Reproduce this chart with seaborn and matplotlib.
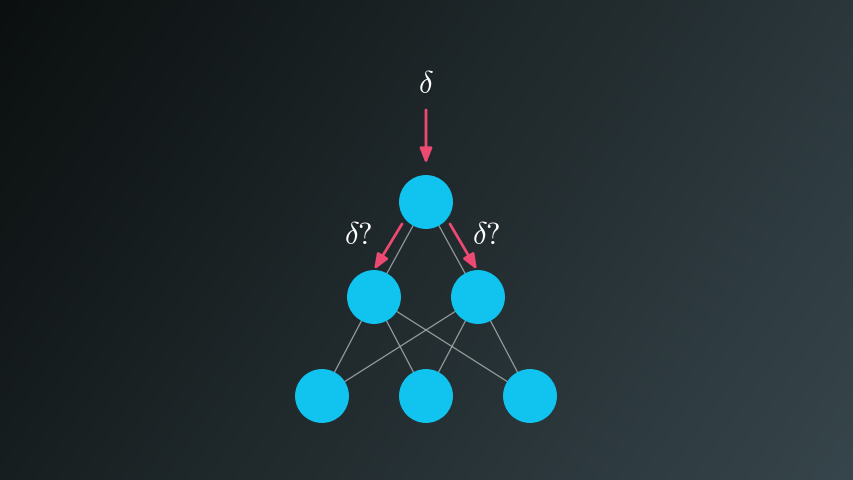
import numpy as np
import pandas as pd
import matplotlib.pyplot as plt
import seaborn as sns

# Network layout (pixel coordinates of the diagram)
layer_names = ["output", "hidden", "hidden", "input", "input", "input"]
node_x = [426, 374, 478, 322, 426, 530]
node_y = [202, 297, 297, 396, 396, 396]
node_radius = 27

# Connections between nodes (index pairs)
edges = [(0, 1), (0, 2),
         (1, 3), (1, 4), (1, 5),
         (2, 3), (2, 4), (2, 5)]

# Error signal arrows: (x_start, y_start, x_end, y_end)
arrows = [(426, 110, 426, 164),
          (402, 224, 374, 270),
          (450, 224, 477, 270)]
labels = [r"$\delta$", r"$\delta?$", r"$\delta?$"]
label_x = [426, 358, 486]
label_y = [84, 236, 236]

W, H = 854, 480
node_color = "#10c4ef"
arrow_color = "#ec4a72"
edge_color = "#a3a8aa"

sns.set_theme(style="white")
plt.rcParams["mathtext.fontset"] = "cm"

fig = plt.figure(figsize=(8.54, 4.8), dpi=100)
ax = fig.add_axes([0, 0, 1, 1])

# Background gradient: dark top-left to lighter slate bottom-right
gx, gy = np.meshgrid(np.linspace(0, 1, W), np.linspace(0, 1, H))
t = np.clip(0.72 * gx + 0.28 * gy, 0, 1)[..., None]
c0 = np.array([0x0b, 0x0f, 0x0f]) / 255
c1 = np.array([0x37, 0x46, 0x4c]) / 255
ax.imshow(c0 + (c1 - c0) * t, extent=[0, W, H, 0], zorder=0)

for a, b in edges:
    ax.plot([node_x[a], node_x[b]], [node_y[a], node_y[b]],
            color=edge_color, lw=0.9, alpha=0.9, zorder=1)

nodes = pd.DataFrame({"x": node_x, "y": node_y, "layer": layer_names})
size_pt = 2 * node_radius * 72 / fig.dpi
sns.scatterplot(data=nodes, x="x", y="y", ax=ax, s=size_pt ** 2,
                color=node_color, edgecolor="none", zorder=3, legend=False)

for x0, y0, x1, y1 in arrows:
    ax.annotate("", xy=(x1, y1), xytext=(x0, y0),
                arrowprops=dict(arrowstyle="-|>,head_length=0.75,head_width=0.3",
                                color=arrow_color, lw=2, shrinkA=0, shrinkB=0),
                zorder=4)

for txt, lx, ly in zip(labels, label_x, label_y):
    ax.text(lx, ly, txt, color="white", fontsize=22, ha="center", va="center",
            zorder=5)

ax.set_xlim(0, W)
ax.set_ylim(H, 0)
ax.set_axis_off()
fig.savefig("out.png", dpi=100)
